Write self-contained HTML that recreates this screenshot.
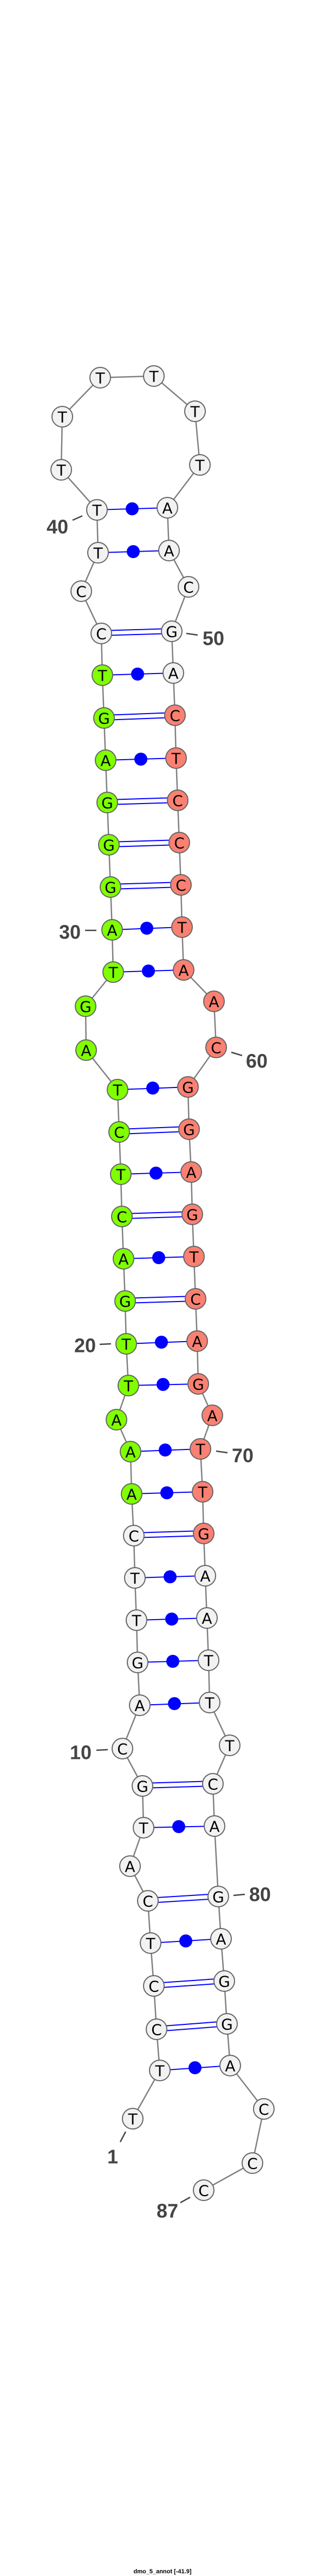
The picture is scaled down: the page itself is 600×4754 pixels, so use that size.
<!DOCTYPE html>
<html><head><meta charset="utf-8"><style>
html,body{margin:0;padding:0;background:#fff;}
svg{display:block;}
.n circle{stroke:#666;stroke-width:2;}
.n text{font-family:"DejaVu Sans","Liberation Sans",sans-serif;font-size:28px;text-anchor:middle;fill:#000;}
.lbl{font-family:"Liberation Sans",sans-serif;font-weight:bold;font-size:36px;fill:#444;text-anchor:middle;}
.tk{stroke:#444;stroke-width:2.5;}
.bp{stroke:#00f;stroke-width:2;}
</style></head><body>
<svg width="600" height="4754" viewBox="0 0 600 4754" xmlns="http://www.w3.org/2000/svg">
<polyline fill="none" stroke="#808080" stroke-width="2.5" points="245,3910 295,3821 289,3745 284,3665 278,3586 273,3508 240,3444 265,3373 263,3296 226,3227 258,3147 254,3068 252,2990 249,2912 247,2834 243,2757 241,2679 215,2620 237,2557 233,2480 231,2401 228,2323 225,2245 223,2167 220,2089 217,2011 159,1938 158,1857 209,1794 207,1716 204,1637 201,1559 198,1481 195,1403 192,1325 189,1246 187,1169 150,1091 181,1020 179,941 113,867 115,769 185,697 284,694 360,759 369,858 309,937 312,1016 348,1083 317,1165 320,1242 323,1320 325,1399 328,1477 331,1555 334,1633 336,1711 339,1790 395,1848 399,1933 347,2006 349,2084 353,2163 355,2241 358,2319 361,2397 364,2475 366,2554 392,2612 370,2674 374,2753 376,2830 379,2908 382,2986 385,3064 387,3142 424,3221 393,3292 396,3370 403,3500 408,3578 414,3656 419,3735 425,3812 487,3892 466,3992 376,4042"/>
<g class="bp">
<!-- single pairs with dots -->
<line x1="295" y1="3821" x2="425" y2="3812"/>
<line x1="278" y1="3586" x2="408" y2="3578"/>
<line x1="265" y1="3373" x2="396" y2="3370"/>
<line x1="258" y1="3147" x2="387" y2="3142"/>
<line x1="254" y1="3068" x2="385" y2="3064"/>
<line x1="252" y1="2990" x2="382" y2="2986"/>
<line x1="249" y1="2912" x2="379" y2="2908"/>
<line x1="243" y1="2757" x2="374" y2="2753"/>
<line x1="241" y1="2679" x2="370" y2="2674"/>
<line x1="237" y1="2557" x2="366" y2="2554"/>
<line x1="233" y1="2480" x2="364" y2="2475"/>
<line x1="228" y1="2323" x2="358" y2="2319"/>
<line x1="223" y1="2167" x2="353" y2="2163"/>
<line x1="217" y1="2011" x2="347" y2="2006"/>
<line x1="209" y1="1794" x2="339" y2="1790"/>
<line x1="207" y1="1716" x2="336" y2="1711"/>
<line x1="195" y1="1403" x2="325" y2="1399"/>
<line x1="189" y1="1246" x2="320" y2="1242"/>
<line x1="181" y1="1020" x2="312" y2="1016"/>
<line x1="179" y1="941" x2="309" y2="937"/>
<!-- double pairs -->
<line x1="289" y1="3740" x2="419" y2="3730"/><line x1="289" y1="3749" x2="419" y2="3739"/>
<line x1="284" y1="3660" x2="414" y2="3651"/><line x1="284" y1="3669" x2="414" y2="3660"/>
<line x1="273" y1="3503" x2="403" y2="3495"/><line x1="273" y1="3512" x2="403" y2="3504"/>
<line x1="263" y1="3291" x2="393" y2="3287"/><line x1="263" y1="3300" x2="393" y2="3296"/>
<line x1="247" y1="2829" x2="376" y2="2825"/><line x1="247" y1="2838" x2="376" y2="2834"/>
<line x1="231" y1="2396" x2="361" y2="2392"/><line x1="231" y1="2405" x2="361" y2="2401"/>
<line x1="225" y1="2240" x2="355" y2="2236"/><line x1="225" y1="2249" x2="355" y2="2245"/>
<line x1="220" y1="2084" x2="349" y2="2079"/><line x1="220" y1="2093" x2="349" y2="2088"/>
<line x1="204" y1="1632" x2="334" y2="1628"/><line x1="204" y1="1641" x2="334" y2="1637"/>
<line x1="201" y1="1554" x2="331" y2="1550"/><line x1="201" y1="1563" x2="331" y2="1559"/>
<line x1="198" y1="1476" x2="328" y2="1472"/><line x1="198" y1="1485" x2="328" y2="1481"/>
<line x1="192" y1="1320" x2="323" y2="1315"/><line x1="192" y1="1329" x2="323" y2="1324"/>
<line x1="187" y1="1164" x2="317" y2="1160"/><line x1="187" y1="1173" x2="317" y2="1169"/>
</g>
<g fill="#00f">
<circle cx="360" cy="3816" r="12"/>
<circle cx="343" cy="3582" r="12"/>
<circle cx="330" cy="3371" r="12"/>
<circle cx="322" cy="3144" r="12"/>
<circle cx="319" cy="3066" r="12"/>
<circle cx="317" cy="2988" r="12"/>
<circle cx="314" cy="2910" r="12"/>
<circle cx="308" cy="2755" r="12"/>
<circle cx="305" cy="2676" r="12"/>
<circle cx="301" cy="2555" r="12"/>
<circle cx="298" cy="2477" r="12"/>
<circle cx="293" cy="2321" r="12"/>
<circle cx="288" cy="2165" r="12"/>
<circle cx="282" cy="2008" r="12"/>
<circle cx="274" cy="1792" r="12"/>
<circle cx="271" cy="1713" r="12"/>
<circle cx="260" cy="1401" r="12"/>
<circle cx="254" cy="1244" r="12"/>
<circle cx="246" cy="1018" r="12"/>
<circle cx="244" cy="939" r="12"/>
</g>
<g class="n">
<g fill="#f2f2f2">
<circle cx="245" cy="3910" r="19"/><circle cx="295" cy="3821" r="19"/><circle cx="289" cy="3745" r="19"/><circle cx="284" cy="3665" r="19"/><circle cx="278" cy="3586" r="19"/><circle cx="273" cy="3508" r="19"/><circle cx="240" cy="3444" r="19"/><circle cx="265" cy="3373" r="19"/><circle cx="263" cy="3296" r="19"/><circle cx="226" cy="3227" r="19"/><circle cx="258" cy="3147" r="19"/><circle cx="254" cy="3068" r="19"/><circle cx="252" cy="2990" r="19"/><circle cx="249" cy="2912" r="19"/><circle cx="247" cy="2834" r="19"/>
<circle cx="187" cy="1169" r="19"/><circle cx="150" cy="1091" r="19"/><circle cx="181" cy="1020" r="19"/><circle cx="179" cy="941" r="19"/><circle cx="113" cy="867" r="19"/><circle cx="115" cy="769" r="19"/><circle cx="185" cy="697" r="19"/><circle cx="284" cy="694" r="19"/><circle cx="360" cy="759" r="19"/><circle cx="369" cy="858" r="19"/><circle cx="309" cy="937" r="19"/><circle cx="312" cy="1016" r="19"/><circle cx="348" cy="1083" r="19"/><circle cx="317" cy="1165" r="19"/><circle cx="320" cy="1242" r="19"/>
<circle cx="379" cy="2908" r="19"/><circle cx="382" cy="2986" r="19"/><circle cx="385" cy="3064" r="19"/><circle cx="387" cy="3142" r="19"/><circle cx="424" cy="3221" r="19"/><circle cx="393" cy="3292" r="19"/><circle cx="396" cy="3370" r="19"/><circle cx="403" cy="3500" r="19"/><circle cx="408" cy="3578" r="19"/><circle cx="414" cy="3656" r="19"/><circle cx="419" cy="3735" r="19"/><circle cx="425" cy="3812" r="19"/><circle cx="487" cy="3892" r="19"/><circle cx="466" cy="3992" r="19"/><circle cx="376" cy="4042" r="19"/>
</g>
<g fill="#7fff00" stroke="#888">
<circle cx="243" cy="2757" r="19"/><circle cx="241" cy="2679" r="19"/><circle cx="215" cy="2620" r="19"/><circle cx="237" cy="2557" r="19"/><circle cx="233" cy="2480" r="19"/><circle cx="231" cy="2401" r="19"/><circle cx="228" cy="2323" r="19"/><circle cx="225" cy="2245" r="19"/><circle cx="223" cy="2167" r="19"/><circle cx="220" cy="2089" r="19"/><circle cx="217" cy="2011" r="19"/><circle cx="159" cy="1938" r="19"/><circle cx="158" cy="1857" r="19"/><circle cx="209" cy="1794" r="19"/><circle cx="207" cy="1716" r="19"/><circle cx="204" cy="1637" r="19"/><circle cx="201" cy="1559" r="19"/><circle cx="198" cy="1481" r="19"/><circle cx="195" cy="1403" r="19"/><circle cx="192" cy="1325" r="19"/><circle cx="189" cy="1246" r="19"/>
</g>
<g fill="#fa8072" stroke="#888">
<circle cx="323" cy="1320" r="19"/><circle cx="325" cy="1399" r="19"/><circle cx="328" cy="1477" r="19"/><circle cx="331" cy="1555" r="19"/><circle cx="334" cy="1633" r="19"/><circle cx="336" cy="1711" r="19"/><circle cx="339" cy="1790" r="19"/><circle cx="395" cy="1848" r="19"/><circle cx="399" cy="1933" r="19"/><circle cx="347" cy="2006" r="19"/><circle cx="349" cy="2084" r="19"/><circle cx="353" cy="2163" r="19"/><circle cx="355" cy="2241" r="19"/><circle cx="358" cy="2319" r="19"/><circle cx="361" cy="2397" r="19"/><circle cx="364" cy="2475" r="19"/><circle cx="366" cy="2554" r="19"/><circle cx="392" cy="2612" r="19"/><circle cx="370" cy="2674" r="19"/><circle cx="374" cy="2753" r="19"/><circle cx="376" cy="2830" r="19"/>
</g>
<g dominant-baseline="central">
<text x="245" y="3911">T</text><text x="295" y="3822">T</text><text x="289" y="3746">C</text><text x="284" y="3666">C</text><text x="278" y="3587">T</text><text x="273" y="3509">C</text><text x="240" y="3445">A</text><text x="265" y="3374">T</text><text x="263" y="3297">G</text><text x="226" y="3228">C</text>
<text x="258" y="3148">A</text><text x="254" y="3069">G</text><text x="252" y="2991">T</text><text x="249" y="2913">T</text><text x="247" y="2835">C</text><text x="243" y="2758">A</text><text x="241" y="2680">A</text><text x="215" y="2621">A</text><text x="237" y="2558">T</text><text x="233" y="2481">T</text>
<text x="231" y="2402">G</text><text x="228" y="2324">A</text><text x="225" y="2246">C</text><text x="223" y="2168">T</text><text x="220" y="2090">C</text><text x="217" y="2012">T</text><text x="159" y="1939">A</text><text x="158" y="1858">G</text><text x="209" y="1795">T</text><text x="207" y="1717">A</text>
<text x="204" y="1638">G</text><text x="201" y="1560">G</text><text x="198" y="1482">G</text><text x="195" y="1404">A</text><text x="192" y="1326">G</text><text x="189" y="1247">T</text><text x="187" y="1170">C</text><text x="150" y="1092">C</text><text x="181" y="1021">T</text><text x="179" y="942">T</text>
<text x="113" y="868">T</text><text x="115" y="770">T</text><text x="185" y="698">T</text><text x="284" y="695">T</text><text x="360" y="760">T</text><text x="369" y="859">T</text><text x="309" y="938">A</text><text x="312" y="1017">A</text><text x="348" y="1084">C</text><text x="317" y="1166">G</text>
<text x="320" y="1243">A</text><text x="323" y="1321">C</text><text x="325" y="1400">T</text><text x="328" y="1478">C</text><text x="331" y="1556">C</text><text x="334" y="1634">C</text><text x="336" y="1712">T</text><text x="339" y="1791">A</text><text x="395" y="1849">A</text><text x="399" y="1934">C</text>
<text x="347" y="2007">G</text><text x="349" y="2085">G</text><text x="353" y="2164">A</text><text x="355" y="2242">G</text><text x="358" y="2320">T</text><text x="361" y="2398">C</text><text x="364" y="2476">A</text><text x="366" y="2555">G</text><text x="392" y="2613">A</text><text x="370" y="2675">T</text>
<text x="374" y="2754">T</text><text x="376" y="2831">G</text><text x="379" y="2909">A</text><text x="382" y="2987">A</text><text x="385" y="3065">T</text><text x="387" y="3143">T</text><text x="424" y="3222">T</text><text x="393" y="3293">C</text><text x="396" y="3371">A</text><text x="403" y="3501">G</text>
<text x="408" y="3579">A</text><text x="414" y="3657">G</text><text x="419" y="3736">G</text><text x="425" y="3813">A</text><text x="487" y="3893">C</text><text x="466" y="3993">C</text><text x="376" y="4043">C</text>
</g>
</g>
<g class="tk">
<line x1="134" y1="960" x2="152" y2="952"/>
<line x1="344" y1="1169" x2="365" y2="1172"/>
<line x1="157" y1="1717" x2="178" y2="1717"/>
<line x1="427" y1="1942" x2="447" y2="1948"/>
<line x1="184" y1="2481" x2="205" y2="2480"/>
<line x1="399" y1="2678" x2="420" y2="2681"/>
<line x1="178" y1="3230" x2="199" y2="3229"/>
<line x1="431" y1="3498" x2="452" y2="3496"/>
<line x1="232" y1="3934" x2="222" y2="3953"/>
<line x1="351" y1="4055" x2="333" y2="4065"/>
</g>
<g class="lbl" dominant-baseline="central">
<text x="106" y="972">40</text>
<text x="394" y="1178">50</text>
<text x="129" y="1720">30</text>
<text x="474" y="1958">60</text>
<text x="157" y="2483">20</text>
<text x="448" y="2686">70</text>
<text x="149" y="3234">10</text>
<text x="480" y="3496">80</text>
<text x="208" y="3980">1</text>
<text x="309" y="4080">87</text>
</g>
<text x="300" y="4749" font-family="Liberation Sans, sans-serif" font-weight="bold" font-size="11" text-anchor="middle" fill="#000">dmo_5_annot [-41.9]</text>
</svg>
</body></html>
